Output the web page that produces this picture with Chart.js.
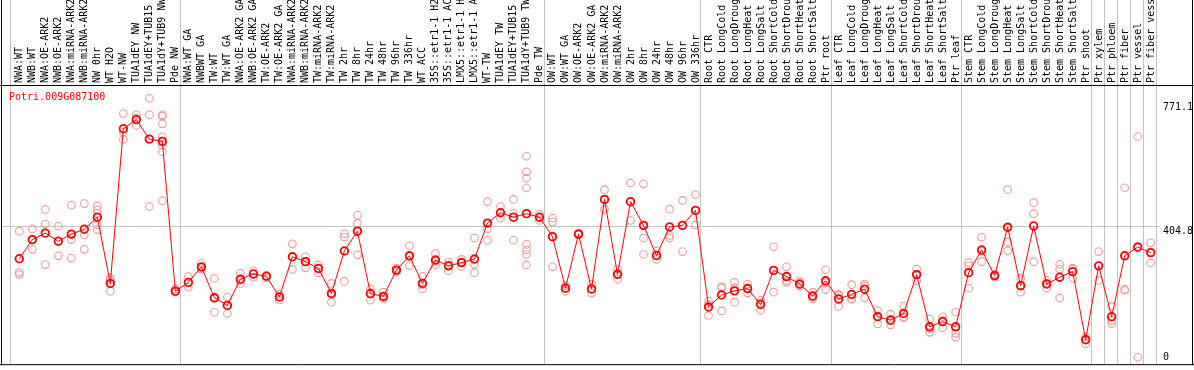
<!DOCTYPE html>
<html>
<head>
<meta charset="utf-8">
<script src="https://cdn.jsdelivr.net/npm/chart.js@4.4.1/dist/chart.umd.min.js"></script>
<style>
  html, body { margin: 0; padding: 0; background: #fff; }
  #wrap { width: 1194px; height: 370px; }
</style>
</head>
<body>
<div id="wrap"><canvas id="grafico" width="1194" height="370"></canvas></div>
<script>
// nombre del gen (texto rojo arriba a la izquierda)
const gen = 'Potri.009G087100';

// muestras, en el orden del eje x
const etiquetas = [
  'NWA:WT', 'NWB:WT', 'NWA:OE-ARK2', 'NWB:OE-ARK2', 'NWA:miRNA-ARK2', 'NWB:miRNA-ARK2',
  'NW 0hr', 'WT H2O', 'WT-NW', 'TUA1dEY NW', 'TUA1dEY+TUB15 NW', 'TUA1dY+TUB9 NW', 'Pde NW',
  'NWA:WT GA', 'NWBWT GA', 'TW:WT', 'TW:WT GA', 'NWA:OE-ARK2 GA', 'NWB:OE-ARK2 GA',
  'TW:OE-ARK2', 'TW:OE-ARK2 GA', 'NWA:miRNA-ARK2 GA', 'NWB:miRNA-ARK2 GA', 'TW:miRNA-ARK2',
  'TW:miRNA-ARK2 GA', 'TW 2hr', 'TW 8hr', 'TW 24hr', 'TW 48hr', 'TW 96hr', 'TW 336hr', 'WT ACC',
  '35S::etr1-1 H2O', '35S::etr1-1 ACC', 'LMX5::etr1-1 H2O', 'LMX5::etr1-1 ACC', 'WT-TW',
  'TUA1dEY TW', 'TUA1dEY+TUB15 TW', 'TUA1dY+TUB9 TW', 'Pde TW',
  'OW:WT', 'OW:WT GA', 'OW:OE-ARK2', 'OW:OE-ARK2 GA', 'OW:miRNA-ARK2', 'OW:miRNA-ARK2 GA',
  'OW 2hr', 'OW 8hr', 'OW 24hr', 'OW 48hr', 'OW 96hr', 'OW 336hr',
  'Root CTR', 'Root LongCold', 'Root LongDrought', 'Root LongHeat', 'Root LongSalt',
  'Root ShortCold', 'Root ShortDrought', 'Root ShortHeat', 'Root ShortSalt', 'Ptr root',
  'Leaf CTR', 'Leaf LongCold', 'Leaf LongDrought', 'Leaf LongHeat', 'Leaf LongSalt',
  'Leaf ShortCold', 'Leaf ShortDrought', 'Leaf ShortHeat', 'Leaf ShortSalt', 'Ptr leaf',
  'Stem CTR', 'Stem LongCold', 'Stem LongDrought', 'Stem LongHeat', 'Stem LongSalt',
  'Stem ShortCold', 'Stem ShortDrought', 'Stem ShortHeat', 'Stem ShortSalt', 'Ptr shoot',
  'Ptr xylem', 'Ptr phloem', 'Ptr fiber', 'Ptr vessel', 'Ptr fiber vessel'
];

// valor medio de cada muestra (linea roja)
const medias = [
  304, 363, 383, 358, 380, 395, 432, 228, 705, 733, 673, 666, 204,
  231, 279, 184, 160, 241, 257, 250, 186, 310, 295, 274, 197, 328, 389, 196, 188, 269,
  313, 228, 300, 282, 292, 303, 414, 446, 432, 443, 432,
  372, 213, 380, 211, 487, 256, 480, 407, 314, 402, 407, 453,
  155, 192, 205, 212, 163, 268, 249, 226, 189, 236,
  180, 194, 210, 125, 115, 135, 255, 94, 110, 94,
  261, 331, 252, 401, 221, 405, 226, 247, 264, 54,
  282, 125, 313, 340, 323
];

// replicas de cada muestra (circulos rosados)
const replicas = [
  [389, 262, 255], [396, 362, 333], [456, 411, 286], [405, 358, 313], [469, 363, 306],
  [474, 378, 333], [467, 454, 444, 409, 394], [244, 238, 204], [752, 695, 672],
  [748, 737, 715], [799, 748, 465], [748, 744, 720, 680, 654, 634, 483], [211, 205, 201],
  [249, 216], [289, 277, 272], [243, 180, 139], [186, 135], [259, 237, 228], [267, 256, 247],
  [252, 251, 244], [194, 186, 177], [350, 309, 271], [310, 295, 276], [285, 274, 260],
  [228, 192, 170], [381, 371, 234], [438, 413, 316], [211, 200, 176], [201, 184, 179],
  [275, 268, 263], [344, 311, 283], [250, 224, 211], [320, 296, 285], [294, 285, 267],
  [302, 294, 280], [368, 287, 261], [480, 396, 361], [465, 446, 429], [487, 444, 361],
  [620, 572, 553, 523, 348, 331, 317, 285], [441, 432, 422],
  [429, 417, 279], [221, 214, 204], [383, 380, 378], [226, 209, 198], [517, 487, 457],
  [272, 254, 241], [538, 422], [535, 368, 317], [328, 314, 302], [457, 376, 368],
  [484, 326], [502, 408],
  [173, 163, 129], [218, 214, 143], [231, 214, 170], [226, 212, 198], [176, 169, 145],
  [341, 201], [279, 236, 231], [234, 225, 219], [201, 185, 180], [270, 230, 209],
  [194, 190, 157], [224, 179, 179], [226, 220, 184], [144, 128, 103], [133, 111, 100],
  [158, 125, 122], [272, 256, 236], [118, 88, 77], [125, 113, 91], [139, 74, 62],
  [292, 282, 213], [370, 327, 295], [257, 252, 247], [517, 356, 328], [244, 219, 201],
  [477, 443, 295], [237, 228, 213], [287, 272, 183], [275, 272, 244], [64, 56, 42],
  [326, 237], [157, 113, 104], [523, 210, 206], [681, 0], [353, 323, 291]
];

// marcas del eje derecho
const marcasY = [0, 404.8, 771.1];
// ultima muestra de cada grupo (lineas grises verticales)
const finGrupo = [12, 40, 52, 62, 72, 82, 83, 84, 85, 86, 87];

const puntosReplicas = [];
replicas.forEach((lista, i) => {
  lista.forEach(v => puntosReplicas.push({ x: etiquetas[i], y: v }));
});

const fuente = '10px "DejaVu Sans Mono", monospace';

// lineas del marco, separadores y textos
const marco = {
  id: 'marco',
  beforeDatasetsDraw(chart) {
    const ctx = chart.ctx;
    const sx = chart.scales.x, sy = chart.scales.y;
    const abajo = chart.chartArea.bottom;
    const paso = sx.getPixelForValue(1) - sx.getPixelForValue(0);
    ctx.save();
    ctx.strokeStyle = '#c4c4c4';
    ctx.lineWidth = 1;
    ctx.beginPath();
    const xs = [sx.getPixelForValue(0) - paso * 0.7];
    finGrupo.forEach(i => xs.push(sx.getPixelForValue(i) + paso * 0.38));
    xs.forEach(px => {
      const p = Math.round(px) + 0.5;
      ctx.moveTo(p, 0);
      ctx.lineTo(p, abajo);
    });
    const gy = Math.round(sy.getPixelForValue(marcasY[1])) + 0.5;
    ctx.moveTo(1, gy);
    ctx.lineTo(1160, gy);
    ctx.stroke();
    ctx.restore();
  },
  afterDraw(chart) {
    const ctx = chart.ctx;
    const sx = chart.scales.x, sy = chart.scales.y;
    const area = chart.chartArea;
    ctx.save();
    ctx.strokeStyle = '#000';
    ctx.lineWidth = 1;
    ctx.beginPath();
    ctx.moveTo(1.5, 0); ctx.lineTo(1.5, area.bottom + 1);
    ctx.moveTo(1192.5, 0); ctx.lineTo(1192.5, area.bottom + 1);
    ctx.moveTo(0, area.top + 0.5); ctx.lineTo(1194, area.top + 0.5);
    ctx.moveTo(0, area.bottom + 0.5); ctx.lineTo(1194, area.bottom + 0.5);
    ctx.stroke();

    ctx.font = fuente;
    ctx.textBaseline = 'middle';
    ctx.textAlign = 'left';

    // etiquetas verticales de las muestras
    ctx.fillStyle = '#000';
    etiquetas.forEach((txt, i) => {
      ctx.save();
      ctx.translate(Math.round(sx.getPixelForValue(i)), area.top - 2);
      ctx.rotate(-Math.PI / 2);
      ctx.fillText(txt, 0, 0);
      ctx.restore();
    });

    ctx.fillStyle = '#ff0000';
    ctx.fillText(gen, 9, area.top + 12);

    ctx.fillStyle = '#000';
    marcasY.forEach((v, k) => {
      const py = sy.getPixelForValue(v) + (k === 1 ? 5 : 0);
      ctx.fillText(String(v), 1163, py);
    });
    ctx.restore();
  }
};

const ctx = document.getElementById('grafico').getContext('2d');
const grafico = new Chart(ctx, {
  type: 'line',
  data: {
    labels: etiquetas,
    datasets: [
      {
        label: 'media',
        data: medias,
        borderColor: '#ff0000',
        borderWidth: 1,
        tension: 0,
        pointRadius: 3.8,
        pointBorderWidth: 1.8,
        pointBorderColor: '#ff0000',
        pointBackgroundColor: 'rgba(255,255,255,0)'
      },
      {
        label: 'replicas',
        data: puntosReplicas,
        showLine: false,
        pointRadius: 3.8,
        pointBorderWidth: 1.1,
        pointBorderColor: '#f09a9a',
        pointBackgroundColor: 'rgba(255,255,255,0)'
      }
    ]
  },
  options: {
    responsive: false,
    animation: false,
    devicePixelRatio: 1,
    layout: { padding: { left: 12.8, right: 36.8, top: 0, bottom: 2 } },
    plugins: {
      legend: { display: false },
      tooltip: { enabled: false }
    },
    scales: {
      x: {
        position: 'top',
        offset: true,
        grid: { display: false },
        border: { display: false },
        ticks: { display: false },
        afterFit: function (s) { s.height = 85; }
      },
      y: {
        display: false,
        min: -21.3,
        max: 839.9
      }
    }
  },
  plugins: [marco]
});
</script>
</body>
</html>
